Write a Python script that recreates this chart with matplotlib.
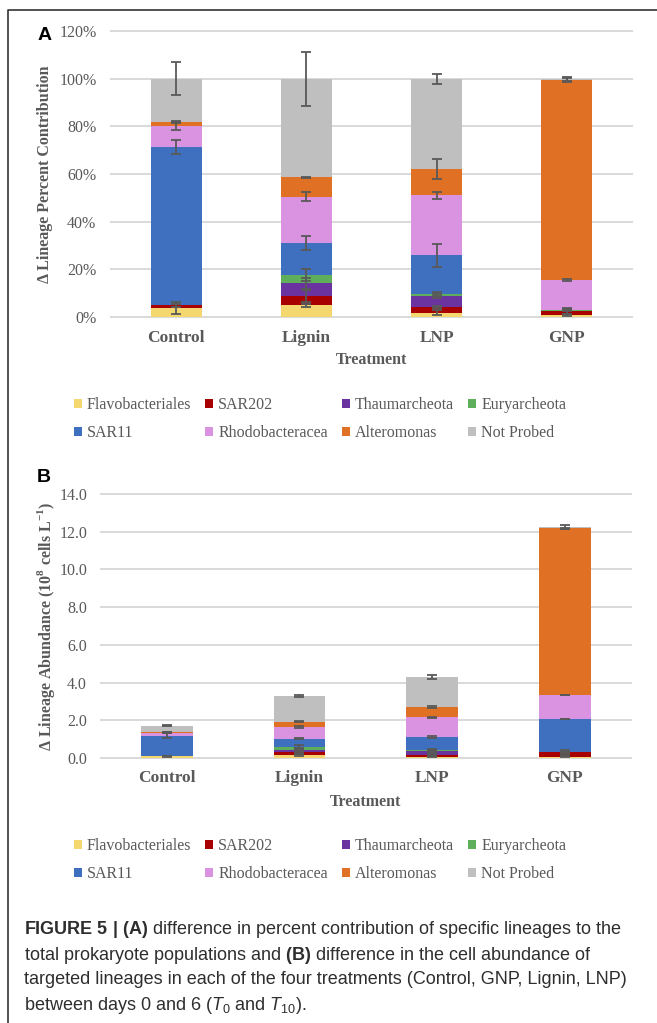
import numpy as np
import matplotlib.pyplot as plt
from matplotlib.lines import Line2D

plt.rcParams['font.family'] = 'Liberation Serif'
plt.rcParams['mathtext.fontset'] = 'custom'
plt.rcParams['mathtext.rm'] = 'Liberation Sans'
plt.rcParams['mathtext.it'] = 'Liberation Sans:italic'
plt.rcParams['mathtext.bf'] = 'Liberation Sans:bold'
plt.rcParams['mathtext.sf'] = 'Liberation Serif:bold'

categories = ['Control', 'Lignin', 'LNP', 'GNP']
lineages = ['Flavobacteriales', 'SAR202', 'Thaumarcheota', 'Euryarcheota',
            'SAR11', 'Rhodobacteracea', 'Alteromonas', 'Not Probed']
colors = ['#f5d76f', '#a80000', '#6b33a0', '#5eae5c',
          '#3f6fbf', '#d993e0', '#e07024', '#bfbfbf']

# (A) change in percent contribution, per lineage
pct_flavo = [3.9, 4.9, 1.8, 0.7]
pct_sar202 = [1.0, 3.9, 2.4, 1.8]
pct_thaum = [0.0, 5.4, 4.6, 0.2]
pct_eury = [0.0, 3.6, 0.7, 0.3]
pct_sar11 = [66.3, 13.3, 16.4, 0.1]
pct_rhodo = [9.0, 19.4, 25.1, 12.4]
pct_altero = [1.7, 8.1, 11.0, 83.9]
pct_notprobed = [18.1, 41.4, 38.0, 0.6]

pct_err_flavo = [2.6, 0.5, 1.0, 0.4]
pct_err_sar202 = [0.6, 2.7, 0.5, 1.3]
pct_err_thaum = [0.0, 2.3, 0.8, 0.2]
pct_err_eury = [0.0, 2.5, 0.8, 0.2]
pct_err_sar11 = [3.0, 2.9, 4.8, 0.3]
pct_err_rhodo = [1.8, 2.0, 1.5, 0.3]
pct_err_altero = [0.3, 0.3, 4.1, 0.8]
pct_err_notprobed = [6.8, 11.3, 2.1, 0.8]

# (B) change in abundance (1e8 cells/L), per lineage
ab_flavo = [0.09, 0.16, 0.07, 0.07]
ab_sar202 = [0.02, 0.14, 0.09, 0.23]
ab_thaum = [0.0, 0.14, 0.23, 0.01]
ab_eury = [0.0, 0.16, 0.03, 0.01]
ab_sar11 = [1.08, 0.42, 0.69, 1.75]
ab_rhodo = [0.16, 0.61, 1.05, 1.27]
ab_altero = [0.02, 0.30, 0.54, 8.84]
ab_notprobed = [0.35, 1.36, 1.59, 0.06]

ab_err_flavo = [0.03, 0.05, 0.04, 0.03]
ab_err_sar202 = [0.02, 0.10, 0.05, 0.15]
ab_err_thaum = [0.0, 0.10, 0.10, 0.02]
ab_err_eury = [0.0, 0.10, 0.03, 0.02]
ab_err_sar11 = [0.12, 0.03, 0.05, 0.02]
ab_err_rhodo = [0.05, 0.05, 0.03, 0.02]
ab_err_altero = [0.02, 0.03, 0.05, 0.03]
ab_err_notprobed = [0.02, 0.03, 0.09, 0.09]

pct_vals = [pct_flavo, pct_sar202, pct_thaum, pct_eury, pct_sar11, pct_rhodo, pct_altero, pct_notprobed]
pct_errs = [pct_err_flavo, pct_err_sar202, pct_err_thaum, pct_err_eury,
            pct_err_sar11, pct_err_rhodo, pct_err_altero, pct_err_notprobed]
ab_vals = [ab_flavo, ab_sar202, ab_thaum, ab_eury, ab_sar11, ab_rhodo, ab_altero, ab_notprobed]
ab_errs = [ab_err_flavo, ab_err_sar202, ab_err_thaum, ab_err_eury,
           ab_err_sar11, ab_err_rhodo, ab_err_altero, ab_err_notprobed]

GRAY = '#595959'
W, H = 657, 1023

fig = plt.figure(figsize=(W / 100, H / 100), dpi=100)


def px_axes(x0, y0, x1, y1):
    return fig.add_axes([x0 / W, 1 - y1 / H, (x1 - x0) / W, (y1 - y0) / H])


def stacked(ax, values, errors, ymax, step, fmt, tick_pad):
    x = np.arange(len(categories))
    bottom = np.zeros(len(categories))
    for name, col, vals, errs in zip(lineages, colors, values, errors):
        vals = np.asarray(vals, float)
        errs = np.asarray(errs, float)
        ax.bar(x, vals, 0.39, bottom=bottom, color=col, label=name, zorder=2)
        bottom = bottom + vals
        m = errs > 0
        ax.errorbar(x[m], bottom[m], yerr=errs[m], fmt='none', ecolor=GRAY,
                    elinewidth=1.3, capsize=3.4, capthick=1.3, zorder=3)
    ax.set_xlim(-0.5, len(categories) - 0.5)
    ax.set_ylim(0, ymax)
    ticks = np.arange(0, ymax + step / 2, step)
    ax.set_yticks(ticks)
    ax.set_yticklabels([fmt(t) for t in ticks])
    ax.set_xticks(x)
    ax.set_xticklabels(categories, fontweight='bold', fontsize=12.5)
    ax.yaxis.grid(True, color='#d9d9d9', lw=1.4)
    for gl in ax.get_ygridlines():
        gl.set_clip_on(False)
    ax.set_axisbelow(True)
    for s in ax.spines.values():
        s.set_visible(False)
    ax.tick_params(axis='y', length=0, pad=tick_pad, labelsize=11.5, labelcolor=GRAY)
    ax.tick_params(axis='x', length=0, pad=9, labelcolor=GRAY)
    ax.set_xlabel('Treatment', fontweight='bold', fontsize=11.5, color=GRAY)


# panel A
ax_a = px_axes(111, 31, 632, 317)
stacked(ax_a, pct_vals, pct_errs, 120, 20, lambda t: f'{t:.0f}%', 10.5)
ax_a.set_ylabel('Δ Lineage Percent Contribution', fontweight='bold', fontsize=11.5, color=GRAY)
ax_a.yaxis.label.set_va('center')
ax_a.yaxis.set_label_coords((45 - 111) / 521, 0.5)
ax_a.xaxis.label.set_va('center')
ax_a.xaxis.set_label_coords(0.5, -(360 - 317) / 286)

# panel B
ax_b = px_axes(100.5, 494, 631, 758)
stacked(ax_b, ab_vals, ab_errs, 14, 2, lambda t: f'{t:.1f}', 9.7)
ax_b.set_ylabel(r'Δ Lineage Abundance (10$^{\mathsf{8}}$ cells L$^{\mathsf{-1}}$)',
                fontweight='bold', fontsize=11.5, color=GRAY)
ax_b.yaxis.label.set_va('center')
ax_b.yaxis.set_label_coords((46 - 100.5) / 530.5, 0.5)
ax_b.xaxis.label.set_va('center')
ax_b.xaxis.set_label_coords(0.5, -(802 - 758) / 264)

# legends, two rows of four
order = [0, 4, 1, 5, 2, 6, 3, 7]
for ax, yc in [(ax_a, 419), (ax_b, 860)]:
    h, l = ax.get_legend_handles_labels()
    fig.legend([h[i] for i in order], [l[i] for i in order], ncol=4,
               loc='center', bbox_to_anchor=(320 / W, 1 - yc / H),
               frameon=False, fontsize=11.5, labelcolor=GRAY,
               handlelength=0.5, handleheight=0.5, handletextpad=0.3,
               columnspacing=0.9, labelspacing=0.75, borderpad=0)

# panel letters
fig.text(45 / W, 1 - 36 / H, 'A', family='Liberation Sans', fontweight='bold',
         fontsize=14, ha='center', va='center')
fig.text(44 / W, 1 - 478 / H, 'B', family='Liberation Sans', fontweight='bold',
         fontsize=14, ha='center', va='center')

# caption
caption = [
    r'$\bf{FIGURE\ 5\ |\ (A)}$ difference in percent contribution of specific lineages to the',
    r'total prokaryote populations and $\bf{(B)}$ difference in the cell abundance of',
    r'targeted lineages in each of the four treatments (Control, GNP, Lignin, LNP)',
    r'between days 0 and 6 ($\mathit{T}_{0}$ and $\mathit{T}_{10}$).',
]
for i, line in enumerate(caption):
    fig.text(24 / W, 1 - (930 + 25 * i) / H, line, family='Liberation Sans',
             fontsize=13, color='#2e2e2e', ha='left', va='center')

# frame
fig.add_artist(Line2D([8 / W, 8 / W, 1.0], [0.0, 1 - 9.5 / H, 1 - 9.5 / H],
                      color='#333333', lw=1.2, transform=fig.transFigure))

fig.savefig('out.png', dpi=100)
